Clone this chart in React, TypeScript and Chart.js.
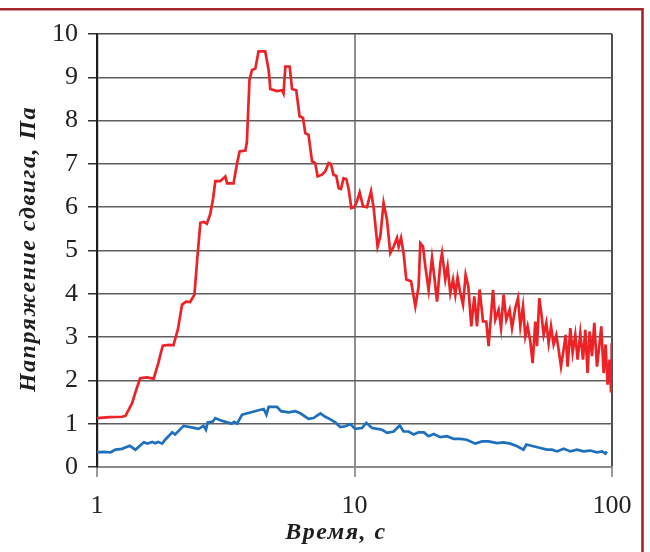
import { useEffect, useRef } from "react";
import { Chart, registerables } from "chart.js";

Chart.register(...registerables);

const redTime = [1.00,1.12,1.25,1.29,1.37,1.42,1.47,1.56,1.66,1.73,1.80,1.90,1.98,2.06,2.14,2.22,2.30,2.39,2.45,2.52,2.60,2.67,2.75,2.82,2.88,3.01,3.15,3.20,3.39,3.50,3.58,3.77,3.82,3.91,4.00,4.12,4.24,4.50,4.64,4.71,5.00,5.23,5.30,5.39,5.60,5.72,5.94,6.12,6.31,6.44,6.63,6.84,7.04,7.19,7.48,7.70,7.93,8.10,8.29,8.50,8.68,8.86,9.07,9.29,9.49,9.72,9.98,10.22,10.47,10.79,11.18,11.59,11.87,12.29,12.60,12.97,13.37,13.77,14.19,14.62,14.84,15.16,15.51,15.89,16.58,17.23,17.74,18.01,18.45,18.84,19.40,20.00,20.41,20.92,21.54,21.87,22.52,22.99,23.55,24.13,24.63,25.14,25.76,26.39,27.01,27.67,28.42,29.19,29.91,30.61,31.55,32.49,33.17,34.51,35.22,36.28,37.07,37.93,38.86,40.02,40.90,42.12,43.15,44.05,45.13,46.06,47.01,48.17,49.17,50.37,51.14,52.21,53.15,54.26,55.58,56.74,57.96,59.33,60.78,62.04,63.38,64.87,66.04,67.24,68.88,70.31,72.03,73.52,75.32,77.16,78.76,80.39,81.85,83.62,85.36,87.44,89.49,90.87,92.77,94.44,96.14,97.88,99.11,99.7];
const redStress = [1.13,1.15,1.16,1.18,1.48,1.78,2.05,2.07,2.04,2.40,2.80,2.82,2.81,3.17,3.75,3.82,3.81,3.98,4.79,5.64,5.66,5.62,5.83,6.17,6.60,6.60,6.71,6.55,6.55,7.02,7.29,7.31,7.50,8.94,9.17,9.20,9.60,9.60,9.17,8.73,8.68,8.70,8.63,9.25,9.25,8.73,8.70,8.10,8.06,7.71,7.67,7.06,7.02,6.71,6.75,6.83,7.02,7.00,6.75,6.72,6.44,6.42,6.67,6.65,6.42,5.98,6.00,6.13,6.34,6.02,6.00,6.37,5.98,5.09,5.33,6.10,5.71,4.94,5.09,5.29,5.09,5.29,4.94,4.33,4.29,3.71,4.17,5.17,5.09,4.63,4.09,4.83,4.40,3.82,4.71,4.94,4.33,4.63,4.02,4.33,3.98,4.37,4.02,3.75,4.44,4.17,3.25,3.94,3.25,4.10,3.36,3.36,2.79,4.09,3.40,3.63,3.21,3.98,3.40,3.63,3.21,3.67,3.90,3.25,3.71,3.02,3.25,2.90,2.40,3.36,2.79,3.90,3.55,3.05,3.33,2.86,3.25,2.83,3.05,2.71,2.32,2.71,3.05,2.32,3.21,2.64,3.05,2.48,3.09,2.48,3.17,2.17,3.13,2.56,3.33,2.32,2.86,3.25,2.17,2.83,1.90,2.48,1.75,2.86];

const blueTime = [1.00,1.06,1.13,1.18,1.25,1.34,1.41,1.52,1.57,1.64,1.68,1.73,1.79,1.84,1.96,2.01,2.17,2.30,2.48,2.59,2.65,2.69,2.82,2.88,3.01,3.20,3.34,3.41,3.50,3.66,3.94,4.24,4.44,4.55,4.64,5.00,5.18,5.54,5.89,6.16,6.63,6.93,7.37,7.70,8.06,8.42,8.81,9.22,9.62,10.07,10.69,11.11,11.70,12.26,12.81,13.37,14.19,14.98,15.51,16.21,16.97,17.74,18.60,19.40,20.30,21.54,22.86,24.24,25.76,27.28,29.46,31.30,33.17,35.80,37.93,40.30,42.80,45.30,46.50,49.50,52.70,55.90,58.50,61.10,64.90,68.90,73.10,77.50,82.30,87.40,91.50,94.30,95.50];
const blueStress = [0.34,0.35,0.34,0.40,0.42,0.49,0.40,0.57,0.54,0.58,0.55,0.58,0.54,0.63,0.80,0.75,0.95,0.92,0.88,0.95,0.86,1.03,1.05,1.13,1.08,1.03,1.00,1.04,1.00,1.21,1.26,1.31,1.34,1.21,1.39,1.39,1.29,1.26,1.29,1.24,1.11,1.13,1.24,1.16,1.10,1.03,0.92,0.94,0.99,0.88,0.90,1.02,0.90,0.88,0.86,0.79,0.82,0.96,0.82,0.82,0.75,0.80,0.80,0.71,0.76,0.69,0.71,0.65,0.65,0.63,0.54,0.59,0.59,0.55,0.57,0.54,0.48,0.40,0.52,0.48,0.44,0.40,0.40,0.36,0.42,0.36,0.40,0.36,0.38,0.34,0.36,0.31,0.36];

const xTickValues = [1, 10, 100];
const yMin = 0;
const yMax = 10;
const yStep = 1;
const yAxisTitle = "Напряжение сдвига, Па";
const xAxisTitle = "Время, с";

const framePlugin = {
  id: "frameAndTitles",
  beforeDraw(chart: any) {
    const ctx = chart.ctx;
    ctx.save();
    ctx.fillStyle = "#ffffff";
    ctx.fillRect(0, 0, chart.width, chart.height);
    ctx.strokeStyle = "#a3262b";
    ctx.lineWidth = 2.6;
    ctx.beginPath();
    ctx.moveTo(0, 9.3);
    ctx.lineTo(642.5, 9.3);
    ctx.lineTo(642.5, chart.height);
    ctx.stroke();
    ctx.restore();
  },
  afterDraw(chart: any) {
    const ctx = chart.ctx;
    ctx.save();
    ctx.fillStyle = "#1e1e1e";
    ctx.font = "italic bold 24px 'Liberation Serif'";
    try {
      (ctx as any).letterSpacing = "1.5px";
    } catch (e) {}
    ctx.textAlign = "center";
    ctx.textBaseline = "alphabetic";
    ctx.fillText(xAxisTitle, 336, 539);
    ctx.translate(35, 249);
    ctx.rotate(-Math.PI / 2);
    ctx.fillText(yAxisTitle, 0, 0);
    ctx.restore();
  },
};

export default function App() {
  const canvasRef = useRef<HTMLCanvasElement | null>(null);

  useEffect(() => {
    const canvas = canvasRef.current;
    if (!canvas) return;
    const chart = new Chart(canvas, {
      type: "line",
      data: {
        datasets: [
          {
            label: "blue",
            data: blueTime.map((t, i) => ({ x: t, y: blueStress[i] })),
            borderColor: "#1f6fbd",
            borderWidth: 2.7,
            pointRadius: 0,
            tension: 0,
            fill: false,
          },
          {
            label: "red",
            data: redTime.map((t, i) => ({ x: t, y: redStress[i] })),
            borderColor: "#ec2227",
            borderWidth: 2.7,
            pointRadius: 0,
            tension: 0,
            fill: false,
          },
        ],
      },
      options: {
        responsive: false,
        animation: false,
        devicePixelRatio: 1,
        layout: { padding: { top: 34, right: 38, left: 0, bottom: 0 } },
        plugins: { legend: { display: false }, tooltip: { enabled: false } },
        scales: {
          x: {
            type: "logarithmic",
            min: 1,
            max: 100,
            afterBuildTicks: (scale: any) => {
              scale.ticks = xTickValues.map((v) => ({ value: v, major: true }));
            },
            afterFit: (scale: any) => {
              scale.height = 85;
            },
            ticks: {
              autoSkip: false,
              maxRotation: 0,
              padding: 14,
              color: "#222",
              font: { family: "'Liberation Serif'", size: 26 },
              callback: (v: any) => String(v),
            },
            grid: {
              color: (c: any) =>
                c.tick && c.tick.value === 100 ? "#505050" : c.tick && c.tick.value === 1 ? "#222" : "#8e8e8e",
              lineWidth: 2,
              tickLength: 10,
              tickColor: "#9a9a9a",
            },
            border: { color: "#8a8a8a", width: 2 },
          },
          y: {
            min: yMin,
            max: yMax,
            afterFit: (scale: any) => {
              scale.width = 97;
            },
            ticks: {
              stepSize: yStep,
              padding: 10,
              color: "#222",
              font: { family: "'Liberation Serif'", size: 26 },
            },
            grid: {
              color: (c: any) =>
                c.tick && c.tick.value === 10 ? "#4a4a4a" : c.tick && c.tick.value === 0 ? "#8a8a8a" : "#5e5e5e",
              lineWidth: 1.5,
              tickLength: 9,
              tickColor: "#333",
            },
            border: { color: "#1e1e1e", width: 2.2 },
          },
        },
      },
      plugins: [framePlugin],
    });
    return () => chart.destroy();
  }, []);

  return (
    <div style={{ position: "absolute", left: 0, top: 0, width: 650, height: 552 }}>
      <canvas ref={canvasRef} width={650} height={552} style={{ width: 650, height: 552, display: "block" }} />
    </div>
  );
}
